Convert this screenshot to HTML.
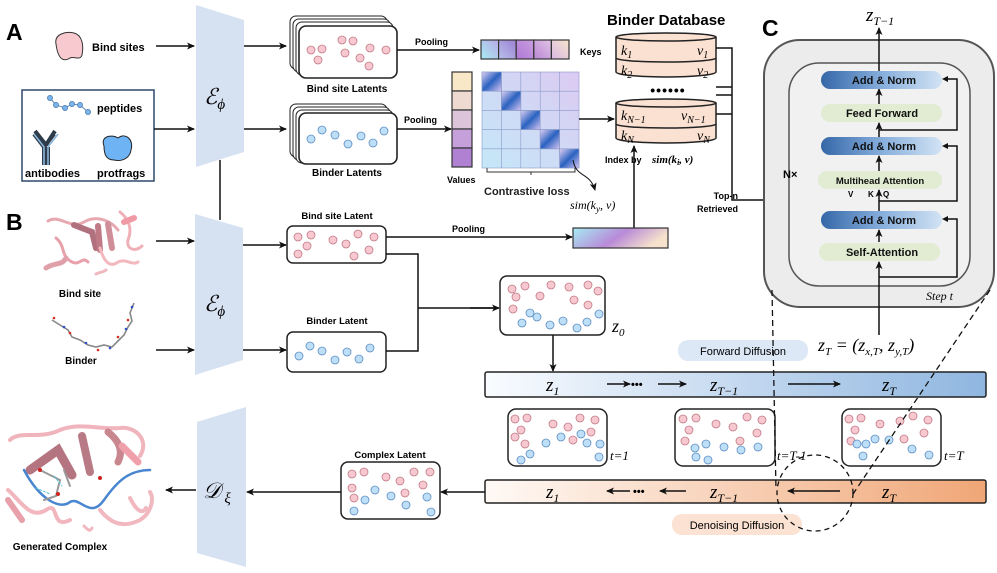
<!DOCTYPE html>
<html><head><meta charset="utf-8"><style>
html,body{margin:0;padding:0;background:#fff;}
svg{display:block;}
.b{font-family:"Liberation Sans",sans-serif;font-weight:bold;}
.m{font-family:"Liberation Serif",serif;font-style:italic;}
</style></head><body>
<svg width="997" height="573" viewBox="0 0 997 573" xmlns="http://www.w3.org/2000/svg">
<defs>
<marker id="ar" markerWidth="8" markerHeight="8" refX="7" refY="4" orient="auto" markerUnits="userSpaceOnUse"><path d="M0,0.5 L8,4 L0,7.5 L2,4 Z" fill="#111"/></marker>
<linearGradient id="fwd" x1="0" x2="1"><stop offset="0" stop-color="#fafcff"/><stop offset="1" stop-color="#8fb6e0"/></linearGradient>
<linearGradient id="den" x1="0" x2="1"><stop offset="0" stop-color="#fffaf6"/><stop offset="1" stop-color="#f0a676"/></linearGradient>
<linearGradient id="an" x1="0" x2="1"><stop offset="0" stop-color="#3567a8"/><stop offset="0.5" stop-color="#86aedc"/><stop offset="1" stop-color="#d2e3f4"/></linearGradient>
<linearGradient id="pool" x1="0" x2="1" y1="0" y2="0.3"><stop offset="0" stop-color="#a6ecf4"/><stop offset="0.55" stop-color="#b88ad8"/><stop offset="1" stop-color="#f6e2cc"/></linearGradient>
<linearGradient id="diag" x1="0" y1="0" x2="1" y2="1"><stop offset="0" stop-color="#e0d0f4"/><stop offset="0.5" stop-color="#2a62c0"/><stop offset="1" stop-color="#d8c4f2"/></linearGradient>
<linearGradient id="cell" x1="0" y1="1" x2="1" y2="0"><stop offset="0" stop-color="#c4e8f8"/><stop offset="1" stop-color="#dccaf2"/></linearGradient>
<linearGradient id="k1" x1="0" y1="1" x2="1" y2="0"><stop offset="0" stop-color="#a8ecf4"/><stop offset="1" stop-color="#b8a8e4"/></linearGradient>
<linearGradient id="k2" x1="0" y1="1" x2="1" y2="0"><stop offset="0" stop-color="#b8c0ec"/><stop offset="1" stop-color="#9c80d2"/></linearGradient>
<linearGradient id="k3" x1="0" y1="1" x2="1" y2="0"><stop offset="0" stop-color="#b078d4"/><stop offset="1" stop-color="#c89ee0"/></linearGradient>
<linearGradient id="k4" x1="0" y1="1" x2="1" y2="0"><stop offset="0" stop-color="#b886d6"/><stop offset="1" stop-color="#e2c4e4"/></linearGradient>
<linearGradient id="k5" x1="0" y1="1" x2="1" y2="0"><stop offset="0" stop-color="#dab8e2"/><stop offset="1" stop-color="#f6e4cc"/></linearGradient>
</defs>

<text x="6" y="40" class="b" font-size="23">A</text>
<text x="6" y="230" class="b" font-size="23">B</text>
<text x="762" y="36" class="b" font-size="23">C</text>

<polygon points="196,5 244,20 244,152 196,167" fill="#d6e1f2"/>
<text x="204" y="104" class="m" font-size="22">ℰ<tspan font-size="15" dy="5">ϕ</tspan></text>
<polygon points="195,214 243,228 243,360 195,375" fill="#d6e1f2"/>
<text x="204" y="311" class="m" font-size="22">ℰ<tspan font-size="15" dy="5">ϕ</tspan></text>
<polygon points="197,422 246,407 246,567 197,553" fill="#d6e1f2"/>
<text x="203" y="498" class="m" font-size="22">𝒟<tspan font-size="15" dy="5"> ξ</tspan></text>
<line x1="220" y1="160" x2="220" y2="220" stroke="#111" stroke-width="1.5"/>

<path d="M56,44 C54,34 66,31 74,33 C82,35 84,45 82,55 C80,61 74,56 70,58 C64,62 58,60 56,44 Z" fill="#f8c9cf" stroke="#333" stroke-width="1"/>
<text x="92" y="51" class="b" font-size="11">Bind sites</text>
<line x1="156" y1="46" x2="194" y2="46" stroke="#111" stroke-width="1.5" marker-end="url(#ar)"/>
<rect x="22" y="90" width="132" height="91" fill="#fff" stroke="#2e4a6a" stroke-width="1.5"/>
<polyline points="50,98 56,105 65,108 72,104 80,105 88,112" fill="none" stroke="#5a8ab8" stroke-width="1"/>
<g fill="#7ab2ec" stroke="#4a7aa8" stroke-width="0.7"><circle cx="50" cy="98" r="2.6"/><circle cx="56" cy="105" r="2.6"/><circle cx="65" cy="108" r="2.6"/><circle cx="72" cy="104" r="2.6"/><circle cx="80" cy="105" r="2.6"/><circle cx="88" cy="112" r="2.6"/></g>
<text x="97" y="112" class="b" font-size="11">peptides</text>
<path d="M34,134 L44,147 L44,165 M44,147 L54,134 M48,147 L48,165 M35,131 L46,145 M55,131 L46,145" stroke="#2d3b4a" stroke-width="4" fill="none"/>
<path d="M34,134 L44,147 L44,165 M48,165 L48,147 L58,134" stroke="#8ab4d8" stroke-width="1.6" fill="none"/>
<path d="M104,146 C100,136 112,134 118,138 C126,132 134,140 131,150 C130,158 122,162 114,160 C106,160 104,154 104,146 Z" fill="#6eb4f4" stroke="#222" stroke-width="1"/>
<text x="25" y="177" class="b" font-size="11">antibodies</text>
<text x="97" y="177" class="b" font-size="11">protfrags</text>
<line x1="154" y1="129" x2="194" y2="129" stroke="#111" stroke-width="1.5" marker-end="url(#ar)"/>
<line x1="244" y1="46" x2="286" y2="46" stroke="#111" stroke-width="1.5" marker-end="url(#ar)"/>
<line x1="244" y1="129" x2="286" y2="129" stroke="#111" stroke-width="1.5" marker-end="url(#ar)"/>

<g fill="#fff" stroke="#222" stroke-width="1">
<rect x="290" y="16" width="97" height="53" rx="6"/><rect x="293" y="19" width="97" height="53" rx="6"/><rect x="296" y="22" width="97" height="53" rx="6"/>
<rect x="299" y="26" width="98" height="52" rx="7" stroke-width="1.6"/>
<rect x="290" y="104" width="97" height="53" rx="6"/><rect x="293" y="107" width="97" height="53" rx="6"/><rect x="296" y="110" width="97" height="53" rx="6"/>
<rect x="299" y="113" width="98" height="51" rx="7" stroke-width="1.6"/>
</g>
<g fill="#f8c8d0" stroke="#c07a86" stroke-width="0.8">
<circle cx="311" cy="50" r="4"/><circle cx="322" cy="49" r="4"/><circle cx="318" cy="60" r="4"/><circle cx="342" cy="40" r="4"/><circle cx="353" cy="41" r="4"/><circle cx="345" cy="53" r="4"/><circle cx="370" cy="48" r="4"/><circle cx="386" cy="50" r="4"/><circle cx="360" cy="58" r="4"/><circle cx="369" cy="66" r="4"/>
</g>
<g fill="#bedff8" stroke="#5e8ec0" stroke-width="0.8">
<circle cx="311" cy="139" r="4"/><circle cx="322" cy="130" r="4"/><circle cx="335" cy="135" r="4"/><circle cx="348" cy="144" r="4"/><circle cx="361" cy="136" r="4"/><circle cx="373" cy="143" r="4"/><circle cx="384" cy="131" r="4"/>
</g>
<text x="347" y="92" class="b" font-size="10" text-anchor="middle">Bind site Latents</text>
<text x="347" y="176" class="b" font-size="10" text-anchor="middle">Binder Latents</text>

<line x1="397" y1="50" x2="479" y2="50" stroke="#111" stroke-width="1.5" marker-end="url(#ar)"/>
<text x="415" y="45" class="b" font-size="9">Pooling</text>
<line x1="397" y1="129" x2="451" y2="129" stroke="#111" stroke-width="1.5" marker-end="url(#ar)"/>
<text x="404" y="123" class="b" font-size="9">Pooling</text>
<g stroke="#333" stroke-width="1.2">
<rect x="481" y="40" width="17.6" height="19" fill="url(#k1)"/><rect x="498.6" y="40" width="17.6" height="19" fill="url(#k2)"/><rect x="516.2" y="40" width="17.6" height="19" fill="url(#k3)"/><rect x="533.8" y="40" width="17.6" height="19" fill="url(#k4)"/><rect x="551.4" y="40" width="17.6" height="19" fill="url(#k5)"/>
</g>
<text x="580" y="55" class="b" font-size="9">Keys</text>
<g stroke="#333" stroke-width="1.2">
<rect x="452" y="72" width="20" height="19" fill="#f8e8c8"/><rect x="452" y="91" width="20" height="19" fill="#eedad0"/><rect x="452" y="110" width="20" height="19" fill="#dcc4da"/><rect x="452" y="129" width="20" height="19" fill="#c6a0da"/><rect x="452" y="148" width="20" height="19" fill="#b080d2"/>
</g>
<text x="447" y="183" class="b" font-size="9">Values</text>

<g stroke="#8a9ac8" stroke-width="0.6">
<rect x="482" y="72" width="97" height="96" fill="url(#cell)"/>
<rect x="482" y="72" width="19.4" height="19.2" fill="url(#diag)"/>
<rect x="501.4" y="91.2" width="19.4" height="19.2" fill="url(#diag)"/>
<rect x="520.8" y="110.4" width="19.4" height="19.2" fill="url(#diag)"/>
<rect x="540.2" y="129.6" width="19.4" height="19.2" fill="url(#diag)"/>
<rect x="559.6" y="148.8" width="19.4" height="19.2" fill="url(#diag)"/>
<path d="M501.4,72V168M520.8,72V168M540.2,72V168M559.6,72V168M482,91.2H579M482,110.4H579M482,129.6H579M482,148.8H579" fill="none"/>
</g>
<path d="M487,168 v4 h88 v-4 M531,172 v3" fill="none" stroke="#333" stroke-width="1"/>
<text x="484" y="195" class="b" font-size="11" fill="#222">Contrastive loss</text>
<path d="M573,160 C576,178 590,172 595,190" fill="none" stroke="#111" stroke-width="1" marker-end="url(#ar)"/>
<text x="570" y="209" class="m" font-size="12">sim(k<tspan font-size="9" dy="3">y</tspan><tspan dy="-3">, v)</tspan></text>
<line x1="579" y1="119" x2="614" y2="119" stroke="#111" stroke-width="1.5" marker-end="url(#ar)"/>

<text x="607" y="25" class="b" font-size="15">Binder Database</text>
<g fill="#fbe1d2" stroke="#222" stroke-width="1.5">
<path d="M616,37 V72 A50,5 0 0 0 716,72 V37"/>
<ellipse cx="666" cy="37" rx="50" ry="4"/>
<path d="M616,58 A50,4 0 0 0 716,58" fill="none"/>
<path d="M616,103 V138 A50,5 0 0 0 716,138 V103"/>
<ellipse cx="666" cy="103" rx="50" ry="4"/>
<path d="M616,124 A50,4 0 0 0 716,124" fill="none"/>
</g>
<g class="m" font-size="14">
<text x="621" y="55">k<tspan font-size="10" dy="3">1</tspan></text>
<text x="697" y="55">v<tspan font-size="10" dy="3">1</tspan></text>
<text x="621" y="75">k<tspan font-size="10" dy="3">2</tspan></text>
<text x="697" y="75">v<tspan font-size="10" dy="3">2</tspan></text>
<text x="621" y="120">k<tspan font-size="10" dy="3">N−1</tspan></text>
<text x="681" y="120">v<tspan font-size="10" dy="3">N−1</tspan></text>
<text x="621" y="140">k<tspan font-size="10" dy="3">N</tspan></text>
<text x="697" y="140">v<tspan font-size="10" dy="3">N</tspan></text>
</g>
<text x="668" y="95" class="b" font-size="14" text-anchor="middle" letter-spacing="1">••••••</text>
<path d="M716,48 H732 V200 H863 V191 M716,114 H732 M716,87 H732 M716,95 H732 M844,200 V191" fill="none" stroke="#111" stroke-width="1.5"/>
<path d="M844,193 l-2.5,4 h5 z M863,193 l-2.5,4 h5 z" fill="#111"/>
<text x="738" y="199" class="b" font-size="9" text-anchor="end">Top-n</text>
<text x="738" y="212" class="b" font-size="9" text-anchor="end">Retrieved</text>
<line x1="634" y1="228" x2="634" y2="146" stroke="#111" stroke-width="1.5" marker-end="url(#ar)"/>
<text x="605" y="163" class="b" font-size="9">Index by </text>
<text x="652" y="163" class="m" font-size="11" font-weight="bold">sim(k<tspan font-size="8" dy="2">i</tspan><tspan dy="-2">, v)</tspan></text>

<g fill="none" stroke-linecap="round">
<path d="M48,221 C60,214 70,230 84,222 C98,214 112,222 118,230" stroke="#e8a8b0" stroke-width="3"/>
<path d="M74,225 L92,232 L96,248" stroke="#b0707e" stroke-width="6"/>
<path d="M98,226 L100,250" stroke="#c07a86" stroke-width="6"/>
<path d="M108,224 L112,248" stroke="#d08e98" stroke-width="6"/>
<path d="M120,212 C130,220 132,230 128,240 C126,250 136,252 142,246" stroke="#f0b0b8" stroke-width="3"/>
<path d="M56,238 C66,246 60,256 72,262 C80,266 82,256 88,262" stroke="#e8a0aa" stroke-width="3"/>
<path d="M46,268 C54,262 62,266 66,258" stroke="#e0a0aa" stroke-width="5"/>
<path d="M100,248 C104,262 110,268 118,262 C126,258 132,266 138,262" stroke="#f2b8be" stroke-width="3"/>
<path d="M96,274 C100,272 104,272 106,270" stroke="#f0b8c0" stroke-width="3"/>
<path d="M124,222 L134,218" stroke="#f09aa6" stroke-width="6"/>
</g>
<text x="80" y="297" class="b" font-size="10" text-anchor="middle">Bind site</text>
<polyline points="52,320 60,325 68,330 72,337 80,340 88,345 96,347 104,345 112,347 118,341 124,335 128,327 132,321 130,313 134,303" fill="none" stroke="#888" stroke-width="1.6"/>
<g fill="#d03020"><circle cx="54" cy="318" r="1.3"/><circle cx="70" cy="333" r="1.3"/><circle cx="98" cy="350" r="1.3"/><circle cx="118" cy="337" r="1.3"/><circle cx="128" cy="320" r="1.3"/></g>
<g fill="#3050c8"><circle cx="64" cy="327" r="1.3"/><circle cx="86" cy="343" r="1.3"/><circle cx="110" cy="348" r="1.3"/><circle cx="126" cy="329" r="1.3"/><circle cx="132" cy="307" r="1.3"/></g>
<text x="81" y="364" class="b" font-size="10" text-anchor="middle">Binder</text>
<line x1="156" y1="241" x2="194" y2="241" stroke="#111" stroke-width="1.5" marker-end="url(#ar)"/>
<line x1="156" y1="350" x2="194" y2="350" stroke="#111" stroke-width="1.5" marker-end="url(#ar)"/>
<line x1="243" y1="245" x2="286" y2="245" stroke="#111" stroke-width="1.5" marker-end="url(#ar)"/>
<line x1="243" y1="350" x2="286" y2="350" stroke="#111" stroke-width="1.5" marker-end="url(#ar)"/>
<rect x="287" y="226" width="99" height="37" rx="6" fill="#fff" stroke="#222" stroke-width="1.5"/>
<rect x="287" y="332" width="99" height="40" rx="6" fill="#fff" stroke="#222" stroke-width="1.5"/>
<text x="337" y="219" class="b" font-size="9.5" text-anchor="middle">Bind site Latent</text>
<text x="337" y="324" class="b" font-size="9.5" text-anchor="middle">Binder Latent</text>
<g fill="#f8c8d0" stroke="#c07a86" stroke-width="0.8">
<circle cx="298" cy="237" r="4"/><circle cx="311" cy="235" r="4"/><circle cx="307" cy="246" r="4"/><circle cx="298" cy="254" r="4"/><circle cx="333" cy="240" r="4"/><circle cx="346" cy="244" r="4"/><circle cx="358" cy="234" r="4"/><circle cx="374" cy="237" r="4"/><circle cx="369" cy="250" r="4"/><circle cx="354" cy="256" r="4"/>
</g>
<g fill="#bedff8" stroke="#5e8ec0" stroke-width="0.8">
<circle cx="299" cy="356" r="4"/><circle cx="310" cy="346" r="4"/><circle cx="322" cy="351" r="4"/><circle cx="335" cy="360" r="4"/><circle cx="347" cy="352" r="4"/><circle cx="359" cy="359" r="4"/><circle cx="370" cy="348" r="4"/>
</g>
<line x1="386" y1="237" x2="572" y2="237" stroke="#111" stroke-width="1.5" marker-end="url(#ar)"/>
<text x="452" y="232" class="b" font-size="9">Pooling</text>
<rect x="573" y="228" width="95" height="20" fill="url(#pool)" stroke="#333" stroke-width="1.2"/>
<path d="M386,254 H418 V351 H386 M418,308 H498" fill="none" stroke="#111" stroke-width="1.5"/>
<line x1="470" y1="308" x2="499" y2="308" stroke="#111" stroke-width="1.5" marker-end="url(#ar)"/>

<rect x="500" y="276" width="105" height="59" rx="7" fill="#fff" stroke="#222" stroke-width="1.5"/>
<g fill="#f8c8d0" stroke="#c07a86" stroke-width="0.8">
<circle cx="512" cy="289" r="4"/><circle cx="525" cy="286" r="4"/><circle cx="516" cy="297" r="4"/><circle cx="551" cy="285" r="4"/><circle cx="569" cy="287" r="4"/><circle cx="588" cy="285" r="4"/><circle cx="598" cy="291" r="4"/><circle cx="540" cy="296" r="4"/><circle cx="574" cy="300" r="4"/><circle cx="513" cy="309" r="4"/><circle cx="588" cy="305" r="4"/>
</g>
<g fill="#bedff8" stroke="#5e8ec0" stroke-width="0.8">
<circle cx="522" cy="323" r="4"/><circle cx="537" cy="317" r="4"/><circle cx="550" cy="325" r="4"/><circle cx="563" cy="321" r="4"/><circle cx="577" cy="328" r="4"/><circle cx="587" cy="322" r="4"/><circle cx="599" cy="314" r="4"/><circle cx="530" cy="313" r="4"/>
</g>
<text x="612" y="332" class="m" font-size="18">z<tspan font-size="11" dy="4">0</tspan></text>
<line x1="553" y1="335" x2="553" y2="371" stroke="#111" stroke-width="1.5" marker-end="url(#ar)"/>

<rect x="485" y="372" width="501" height="25" rx="2" fill="url(#fwd)" stroke="#222" stroke-width="1.5"/>
<g class="m" font-size="19">
<text x="546" y="391">z<tspan font-size="12" dy="4">1</tspan></text>
<text x="710" y="391">z<tspan font-size="12" dy="4">T−1</tspan></text>
<text x="882" y="391">z<tspan font-size="12" dy="4">T</tspan></text>
</g>
<line x1="607" y1="384" x2="630" y2="384" stroke="#111" stroke-width="1.5" marker-end="url(#ar)"/>
<text x="631" y="388" class="b" font-size="11">•••</text>
<line x1="658" y1="384" x2="686" y2="384" stroke="#111" stroke-width="1.5" marker-end="url(#ar)"/>
<line x1="788" y1="384" x2="840" y2="384" stroke="#111" stroke-width="1.5" marker-end="url(#ar)"/>
<rect x="678" y="340" width="130" height="21" rx="10" fill="#dce8f5"/>
<text x="743" y="355" font-family="Liberation Sans,sans-serif" font-size="11" text-anchor="middle">Forward Diffusion</text>
<text x="818" y="351" class="m" font-size="18">z<tspan font-size="11" dy="4">T</tspan><tspan dy="-4"> = (z</tspan><tspan font-size="11" dy="4">x,T</tspan><tspan dy="-4">, z</tspan><tspan font-size="11" dy="4">y,T</tspan><tspan dy="-4">)</tspan></text>

<g fill="#fff" stroke="#222" stroke-width="1.5">
<rect x="508" y="409" width="99" height="57" rx="8"/>
<rect x="675" y="409" width="100" height="57" rx="8"/>
<rect x="842" y="409" width="99" height="57" rx="8"/>
</g>
<g fill="#f8c8d0" stroke="#c07a86" stroke-width="0.8">
<circle cx="515" cy="419" r="4"/><circle cx="527" cy="418" r="4"/><circle cx="521" cy="430" r="4"/><circle cx="515" cy="437" r="4"/><circle cx="525" cy="444" r="4"/><circle cx="553" cy="424" r="4"/><circle cx="568" cy="427" r="4"/><circle cx="580" cy="418" r="4"/><circle cx="595" cy="420" r="4"/><circle cx="591" cy="432" r="4"/><circle cx="573" cy="440" r="4"/>
<circle cx="683" cy="419" r="4"/><circle cx="696" cy="418" r="4"/><circle cx="689" cy="430" r="4"/><circle cx="685" cy="441" r="4"/><circle cx="716" cy="424" r="4"/><circle cx="733" cy="427" r="4"/><circle cx="747" cy="417" r="4"/><circle cx="762" cy="420" r="4"/><circle cx="757" cy="433" r="4"/><circle cx="740" cy="441" r="4"/>
<circle cx="849" cy="419" r="4"/><circle cx="861" cy="418" r="4"/><circle cx="855" cy="430" r="4"/><circle cx="851" cy="441" r="4"/><circle cx="880" cy="424" r="4"/><circle cx="900" cy="421" r="4"/><circle cx="913" cy="416" r="4"/><circle cx="928" cy="420" r="4"/><circle cx="924" cy="433" r="4"/><circle cx="904" cy="439" r="4"/>
</g>
<g fill="#bedff8" stroke="#5e8ec0" stroke-width="0.8">
<circle cx="530" cy="454" r="4"/><circle cx="546" cy="443" r="4"/><circle cx="561" cy="437" r="4"/><circle cx="581" cy="434" r="4"/><circle cx="587" cy="443" r="4"/><circle cx="600" cy="444" r="4"/><circle cx="521" cy="460" r="4"/><circle cx="599" cy="457" r="4"/>
<circle cx="695" cy="448" r="4"/><circle cx="706" cy="444" r="4"/><circle cx="724" cy="447" r="4"/><circle cx="741" cy="450" r="4"/><circle cx="758" cy="447" r="4"/><circle cx="696" cy="457" r="4"/><circle cx="708" cy="460" r="4"/>
<circle cx="857" cy="444" r="4"/><circle cx="866" cy="444" r="4"/><circle cx="875" cy="439" r="4"/><circle cx="889" cy="440" r="4"/><circle cx="912" cy="449" r="4"/><circle cx="863" cy="456" r="4"/><circle cx="929" cy="455" r="4"/>
</g>
<g class="m" font-size="13">
<text x="610" y="460">t=1</text>
<text x="777" y="460">t=T-1</text>
<text x="944" y="460">t=T</text>
</g>

<rect x="485" y="480" width="501" height="23" rx="2" fill="url(#den)" stroke="#222" stroke-width="1.5"/>
<g class="m" font-size="19">
<text x="546" y="498">z<tspan font-size="12" dy="4">1</tspan></text>
<text x="710" y="498">z<tspan font-size="12" dy="4">T−1</tspan></text>
<text x="882" y="498">z<tspan font-size="12" dy="4">T</tspan></text>
</g>
<line x1="630" y1="491" x2="607" y2="491" stroke="#111" stroke-width="1.5" marker-end="url(#ar)"/>
<text x="633" y="495" class="b" font-size="11">•••</text>
<line x1="686" y1="491" x2="660" y2="491" stroke="#111" stroke-width="1.5" marker-end="url(#ar)"/>
<line x1="840" y1="491" x2="788" y2="491" stroke="#111" stroke-width="1.5" marker-end="url(#ar)"/>
<rect x="672" y="514" width="130" height="21" rx="10" fill="#fbe2d2"/>
<text x="737" y="529" font-family="Liberation Sans,sans-serif" font-size="11" text-anchor="middle">Denoising Diffusion</text>

<text x="390" y="458" class="b" font-size="9.5" text-anchor="middle">Complex Latent</text>
<rect x="341" y="462" width="99" height="57" rx="7" fill="#fff" stroke="#222" stroke-width="1.5"/>
<g fill="#f8c8d0" stroke="#c07a86" stroke-width="0.8">
<circle cx="352" cy="474" r="4"/><circle cx="364" cy="472" r="4"/><circle cx="352" cy="488" r="4"/><circle cx="386" cy="477" r="4"/><circle cx="400" cy="481" r="4"/><circle cx="414" cy="472" r="4"/><circle cx="430" cy="472" r="4"/><circle cx="423" cy="485" r="4"/><circle cx="405" cy="493" r="4"/><circle cx="354" cy="498" r="4"/>
</g>
<g fill="#bedff8" stroke="#5e8ec0" stroke-width="0.8">
<circle cx="375" cy="490" r="4"/><circle cx="391" cy="496" r="4"/><circle cx="365" cy="500" r="4"/><circle cx="406" cy="505" r="4"/><circle cx="427" cy="497" r="4"/><circle cx="354" cy="511" r="4"/><circle cx="431" cy="512" r="4"/>
</g>
<line x1="485" y1="492" x2="441" y2="492" stroke="#111" stroke-width="1.5" marker-end="url(#ar)"/>
<line x1="341" y1="492" x2="247" y2="492" stroke="#111" stroke-width="1.5" marker-end="url(#ar)"/>
<line x1="196" y1="490" x2="166" y2="490" stroke="#111" stroke-width="1.5" marker-end="url(#ar)"/>

<g fill="none" stroke-linecap="round">
<path d="M10,440 C20,430 40,440 60,430 C80,422 100,430 120,428 C135,426 150,440 140,456" stroke="#f0b4bc" stroke-width="4"/>
<path d="M30,470 L58,450 L72,475" stroke="#b57580" stroke-width="9"/>
<path d="M82,436 L90,472" stroke="#b87a84" stroke-width="8"/>
<path d="M108,432 C118,440 124,450 118,462" stroke="#c8868f" stroke-width="7"/>
<path d="M122,446 L138,462" stroke="#f0a0aa" stroke-width="7"/>
<path d="M8,490 C20,500 30,520 46,510 C60,500 50,530 70,520" stroke="#f2b6be" stroke-width="4"/>
<path d="M8,500 L22,520" stroke="#e8a0aa" stroke-width="6"/>
<path d="M24,470 C40,500 60,510 70,502 C80,496 90,520 104,500 C118,480 130,470 150,470" stroke="#4a86d0" stroke-width="2.5"/>
<path d="M100,510 C108,520 120,530 140,520 C150,514 155,500 150,492" stroke="#f2b8c0" stroke-width="4"/>
<path d="M130,498 C136,510 142,515 146,508" stroke="#f2b8c0" stroke-width="4"/>
<path d="M84,526 C88,530 90,532 92,528" stroke="#f2b8c0" stroke-width="3"/>
<path d="M40,470 L60,480 L56,496 L44,500 M64,470 L70,486" stroke="#999" stroke-width="2"/>
<path d="M54,476 l8,10 M36,488 l14,6" stroke="#50c0d8" stroke-width="1" stroke-dasharray="2,2"/>
</g>
<g fill="#d02020"><circle cx="40" cy="470" r="2"/><circle cx="58" cy="494" r="2"/><circle cx="100" cy="478" r="2"/></g>
<text x="60" y="550" class="b" font-size="10" text-anchor="middle">Generated Complex</text>

<rect x="764" y="40" width="230" height="267" rx="36" fill="#ececec" stroke="#555" stroke-width="2"/>
<rect x="789" y="63" width="181" height="223" rx="30" fill="#f1f1f1" stroke="#555" stroke-width="1.5"/>
<text x="783" y="178" class="b" font-size="11">N×</text>
<text x="926" y="300" class="m" font-size="12">Step t</text>
<line x1="879" y1="335" x2="879" y2="262" stroke="#111" stroke-width="1.5" marker-end="url(#ar)"/>
<line x1="879" y1="242" x2="879" y2="230" stroke="#111" stroke-width="1.5" marker-end="url(#ar)"/>
<line x1="879" y1="211" x2="879" y2="190" stroke="#111" stroke-width="1.5" marker-end="url(#ar)"/>
<line x1="879" y1="171" x2="879" y2="156" stroke="#111" stroke-width="1.5" marker-end="url(#ar)"/>
<line x1="879" y1="137" x2="879" y2="123" stroke="#111" stroke-width="1.5" marker-end="url(#ar)"/>
<line x1="879" y1="104" x2="879" y2="89" stroke="#111" stroke-width="1.5" marker-end="url(#ar)"/>
<line x1="879" y1="71" x2="879" y2="28" stroke="#111" stroke-width="1.5" marker-end="url(#ar)"/>
<path d="M879,130 H957 V79 H944 M879,201 H957 V146 H944 M879,277 H957 V219 H944" fill="none" stroke="#111" stroke-width="1.5"/>
<path d="M942,79 l6,-3 v6 z M942,146 l6,-3 v6 z M942,219 l6,-3 v6 z" fill="#111"/>
<rect x="821" y="71" width="121" height="18" rx="9" fill="url(#an)"/>
<rect x="821" y="104" width="121" height="18" rx="9" fill="#e1ecd2"/>
<rect x="821" y="137" width="121" height="18" rx="9" fill="url(#an)"/>
<rect x="818" y="171" width="124" height="18" rx="9" fill="#e1ecd2"/>
<rect x="821" y="211" width="121" height="18" rx="9" fill="url(#an)"/>
<rect x="819" y="243" width="121" height="18" rx="9" fill="#e1ecd2"/>
<g font-family="Liberation Sans,sans-serif" font-size="11" font-weight="bold" text-anchor="middle" fill="#111">
<text x="884" y="84">Add &amp; Norm</text>
<text x="882" y="117">Feed Forward</text>
<text x="884" y="150">Add &amp; Norm</text>
<text x="880" y="184" font-size="9.5">Multihead Attention</text>
<text x="884" y="224">Add &amp; Norm</text>
<text x="882" y="256">Self-Attention</text>
</g>
<g class="b" font-size="8"><text x="848" y="197">V</text><text x="868" y="197">K</text><text x="883" y="197">Q</text></g>
<text x="866" y="21" class="m" font-size="19">z<tspan font-size="12" dy="4">T−1</tspan></text>

<circle cx="815" cy="493" r="38" fill="none" stroke="#111" stroke-width="1.3" stroke-dasharray="5,4"/>
<line x1="772" y1="290" x2="776" y2="490" stroke="#111" stroke-width="1.3" stroke-dasharray="6,4"/>
<line x1="990" y1="290" x2="851" y2="497" stroke="#111" stroke-width="1.3" stroke-dasharray="6,4"/>
</svg>
</body></html>
